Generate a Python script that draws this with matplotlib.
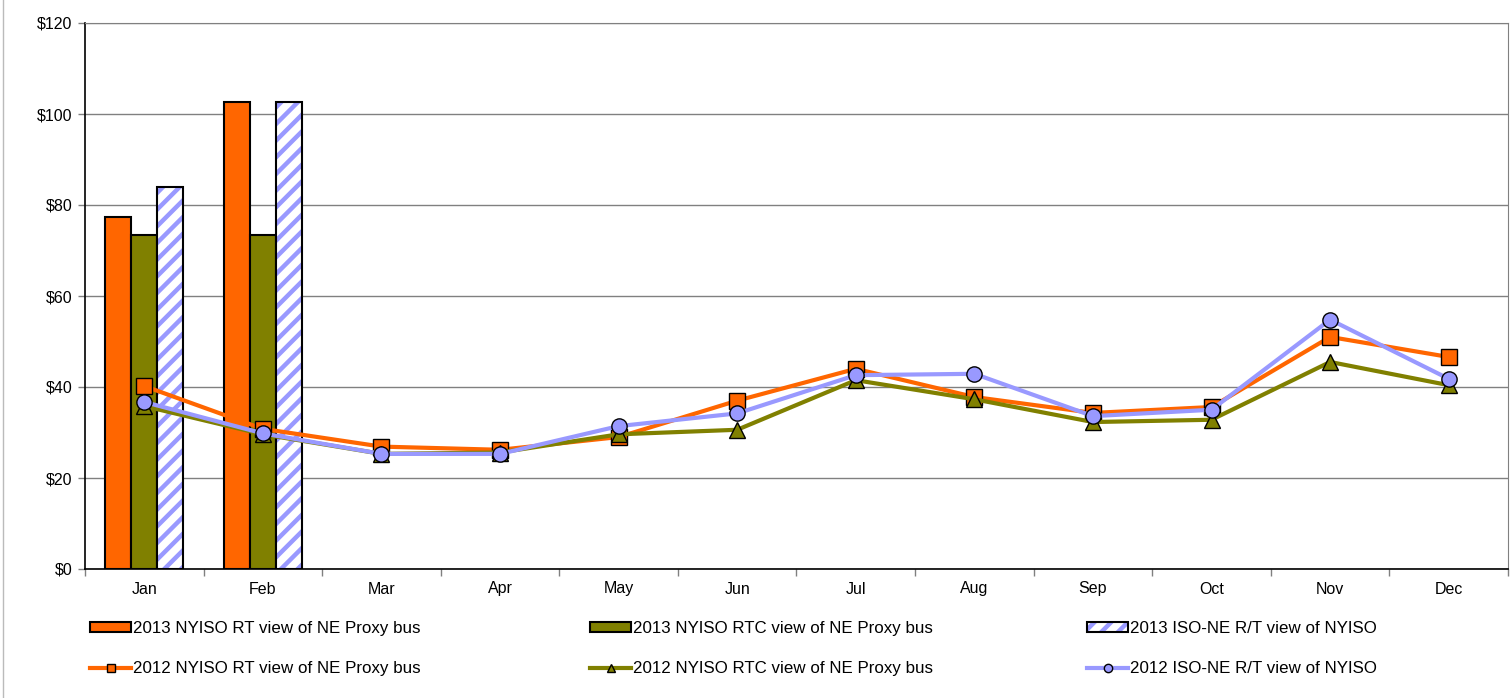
import matplotlib
matplotlib.use("Agg")
import matplotlib.pyplot as plt
import numpy as np
from matplotlib.patches import Patch
from matplotlib.lines import Line2D
from matplotlib.legend_handler import HandlerTuple

months = ["Jan", "Feb", "Mar", "Apr", "May", "Jun", "Jul", "Aug", "Sep", "Oct", "Nov", "Dec"]

# 2013 bars (only Jan and Feb available)
rt_2013 = [77.4, 102.7]
rtc_2013 = [73.4, 73.4]
isone_2013 = [84.0, 102.7]

# 2012 lines
rt_2012 = [40.2, 30.8, 26.9, 26.2, 29.0, 37.0, 44.0, 37.8, 34.3, 35.6, 51.0, 46.6]
rtc_2012 = [35.8, 29.6, 25.3, 25.6, 29.6, 30.6, 41.5, 37.3, 32.3, 32.8, 45.5, 40.4]
isone_2012 = [36.7, 29.8, 25.3, 25.3, 31.4, 34.2, 42.6, 42.9, 33.6, 35.0, 54.8, 41.8]

labels = [
    "2013 NYISO RT view of NE Proxy bus",
    "2013 NYISO RTC view of NE Proxy bus",
    "2013 ISO-NE R/T view of NYISO",
    "2012 NYISO RT view of NE Proxy bus",
    "2012 NYISO RTC view of NE Proxy bus",
    "2012 ISO-NE R/T view of NYISO",
]

ORANGE = "#FF6600"
OLIVE = "#808000"
BLUE = "#9999FF"
W, H = 1511, 698

plt.rcParams["font.family"] = ["Liberation Sans", "DejaVu Sans"]
plt.rcParams["hatch.linewidth"] = 3.2

fig = plt.figure(figsize=(W / 100, H / 100), dpi=100)
ax = fig.add_axes([85 / W, 1 - 569 / H, (1508 - 85) / W, (569 - 23) / H])

# thin grey frame line at the left edge of the image
fig.add_artist(Line2D([3 / W, 3 / W], [0, 1], color="#BBBBBB", lw=1))

x = np.arange(len(months))
xb = np.arange(len(rt_2013))
w = 0.22
ax.bar(xb - w, rt_2013, w, color=ORANGE, edgecolor="black", linewidth=1.5, zorder=2)
ax.bar(xb, rtc_2013, w, color=OLIVE, edgecolor="black", linewidth=1.5, zorder=2)
ax.bar(xb + w, isone_2013, w, color="white", edgecolor=BLUE, hatch="//", linewidth=0, zorder=2)
ax.bar(xb + w, isone_2013, w, fill=False, edgecolor="black", linewidth=1.5, zorder=2)

ax.plot(x, rt_2012, color=ORANGE, lw=3, marker="s", ms=11, mfc=ORANGE, mec="black", mew=1, zorder=3)
ax.plot(x, rtc_2012, color=OLIVE, lw=3, marker="^", ms=11, mfc=OLIVE, mec="black", mew=1, zorder=4)
ax.plot(x, isone_2012, color=BLUE, lw=3, marker="o", ms=11, mfc=BLUE, mec="black", mew=1, zorder=5)

ax.set_xlim(-0.5, len(months) - 0.5)
ax.set_ylim(0, 120)
ax.set_yticks(range(0, 121, 20))
ax.set_yticklabels([f"${v}" for v in range(0, 121, 20)], fontsize=11.5)
ax.set_xticks(x)
ax.set_xticklabels(months, fontsize=11.5)
ax.set_xticks(np.arange(-0.5, len(months)), minor=True)
ax.tick_params(axis="x", which="major", length=0, pad=9)
ax.tick_params(axis="x", which="minor", length=5, width=1, direction="out", color="#808080")
ax.tick_params(axis="y", length=5, width=1, direction="out", pad=4, color="#808080")
ax.yaxis.grid(True, color="#808080", lw=1, zorder=0)
ax.set_axisbelow(True)
for side in ("top", "right"):
    ax.spines[side].set_color("#808080")
for side in ("left", "bottom"):
    ax.spines[side].set_color("black")
    ax.spines[side].set_linewidth(1.2)

h_rt13 = Patch(facecolor=ORANGE, edgecolor="black", linewidth=1.5)
h_rtc13 = Patch(facecolor=OLIVE, edgecolor="black", linewidth=1.5)
h_is13 = (Patch(facecolor="white", edgecolor=BLUE, hatch="//", linewidth=0),
          Patch(fill=False, edgecolor="black", linewidth=1.5))
h_rt12 = Line2D([], [], color=ORANGE, lw=3, marker="s", ms=6, mfc=ORANGE, mec="black")
h_rtc12 = Line2D([], [], color=OLIVE, lw=3, marker="^", ms=6, mfc=OLIVE, mec="black")
h_is12 = Line2D([], [], color=BLUE, lw=3, marker="o", ms=6, mfc=BLUE, mec="black")

columns = [
    ([h_rt13, h_rt12], [labels[0], labels[3]], 90),
    ([h_rtc13, h_rtc12], [labels[1], labels[4]], 590),
    ([h_is13, h_is12], [labels[2], labels[5]], 1087),
]
for handles, texts, left in columns:
    fig.legend(
        handles,
        texts,
        loc="upper left",
        bbox_to_anchor=(left / W, 1 - 621 / H),
        borderaxespad=0,
        borderpad=0,
        frameon=False,
        fontsize=12.2,
        handlelength=2.42,
        handleheight=0.6,
        handletextpad=0.12,
        labelspacing=1.5,
        handler_map={tuple: HandlerTuple(ndivide=1)},
    )

fig.savefig("out.png", dpi=100)
